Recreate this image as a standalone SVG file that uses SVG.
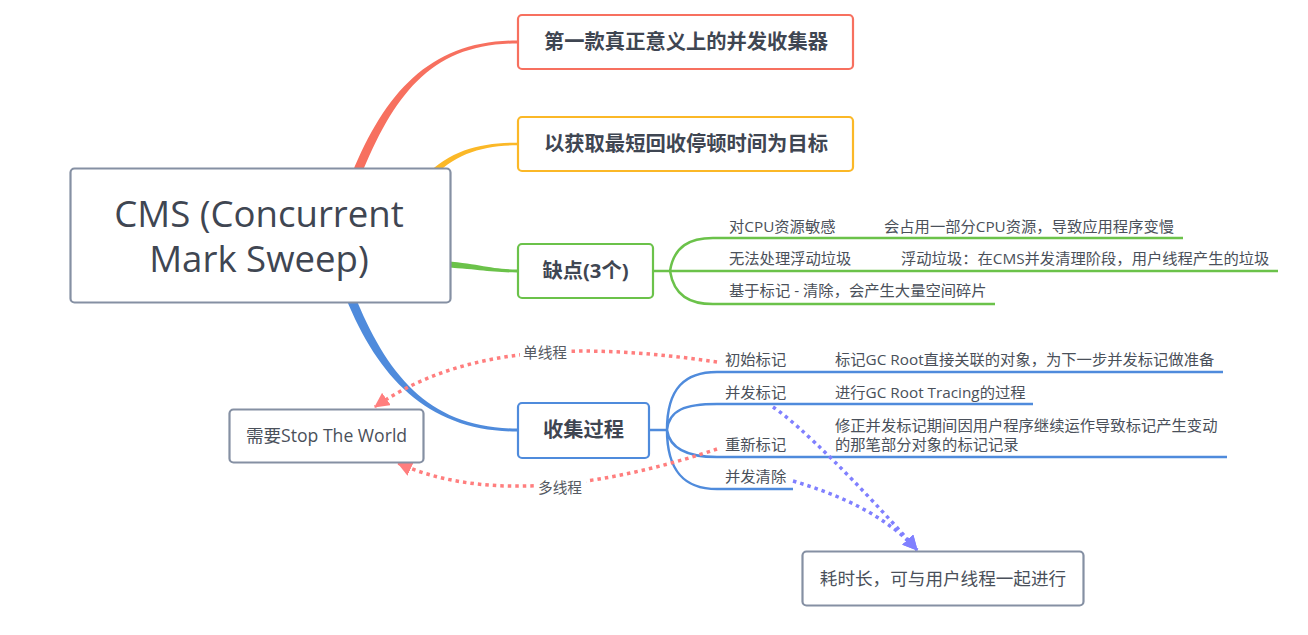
<svg xmlns="http://www.w3.org/2000/svg" width="1308" height="635" viewBox="0 0 1308 635">
<defs>
<style>
.t{font-family:"Open Sans","Noto Sans CJK SC",sans-serif;fill:#3f4652}
.main{font-size:36.6px;text-anchor:middle}
.big{font-size:20.3px;font-weight:700;text-anchor:middle}
.grey{font-size:17.6px;text-anchor:middle;fill:#4a505a}
.d{font-size:15.3px;fill:#4a505a}
.lbl{font-size:14.7px;fill:#555a62;text-anchor:middle}
.node{fill:#fff;stroke-width:2.2}
.gl{fill:none;stroke:#6bc24a;stroke-width:2.5}
.bl{fill:none;stroke:#4f8bdc;stroke-width:2.5}
.rd{fill:none;stroke:#ff7e7e;stroke-width:3.5;stroke-dasharray:3.5 4}
.pd{fill:none;stroke:#8080ff;stroke-width:3.5;stroke-dasharray:3.5 4}
</style>
<marker id="ar" viewBox="0 0 14 14" refX="13" refY="7" markerWidth="15" markerHeight="15" markerUnits="userSpaceOnUse" orient="auto">
<path d="M0,0 L14,7 L0,14 Z" fill="#ff7e7e"/>
</marker>
<marker id="ap" viewBox="0 0 14 14" refX="13" refY="7" markerWidth="15" markerHeight="15" markerUnits="userSpaceOnUse" orient="auto">
<path d="M0,0 L14,7 L0,14 Z" fill="#8080ff"/>
</marker>
</defs>
<rect width="1308" height="635" fill="#fff"/>
<g id="connectors">
<path d="M360.2 177.7 C394.2 93.7 432 43.5 517 43.5 L517 40.5 C432 40.5 385.8 90.3 351.8 174.3 Z" fill="#f7705f"/>
<path d="M430.2 180 C454.2 154 482 145.3 517 145.3 L517 142.7 C482 142.7 449.8 150 425.8 176 Z" fill="#fbb827"/>
<path d="M440 267 C478 269 490 272.5 517 272.5 L517 269.5 C490 269.5 478 263 440 261 Z" fill="#6bc24a"/>
<path d="M354.2 294.3 C387.2 376.3 430 428.5 517 428.5 L517 431.5 C430 431.5 378.8 379.7 345.8 297.7 Z" fill="#4f8bdc"/>
<path class="gl" d="M653 271 H670 M670 271 C674 246 690 238 713 238 H1183 M670 271 H1278 M670 271 C674 296 690 304 713 304 H995"/>
<path class="bl" d="M648 430 H667 M667 430 C667 388 685 372 717 372 H1223 M667 430 C669 410 685 404 717 404 H1033 M667 430 C670 450 690 457 717 457 H1227 M667 430 C667 472 685 489 717 489 H793"/>
<path class="rd" d="M717 362 C600 345 470 340 375 407" marker-end="url(#ar)"/>
<path class="rd" d="M717 449 C640 475 500 510 398 463" marker-end="url(#ar)"/>
<path class="pd" d="M773 407 C800 425 860 485 917 550" marker-end="url(#ap)"/>
<path class="pd" d="M793 481 C840 495 885 515 917 550" marker-end="url(#ap)"/>
<rect x="520" y="343" width="50" height="20" fill="#fff"/>
<rect x="535" y="477" width="51" height="20" fill="#fff"/>
<text class="t lbl" x="545" y="358">单线程</text>
<text class="t lbl" x="560" y="493">多线程</text>
</g>
<g id="root">
<rect class="node" x="70.5" y="168.5" width="380" height="134" rx="4" stroke="#8590a3" stroke-width="3"/>
<text class="t main" x="259" y="227">CMS (Concurrent</text>
<text class="t main" x="259" y="272">Mark Sweep)</text>
</g>
<g id="n1">
<rect class="node" x="518" y="15" width="335" height="54" rx="4" stroke="#f7705f"/>
<text class="t big" x="686" y="49">第一款真正意义上的并发收集器</text>
</g>
<g id="n2">
<rect class="node" x="518" y="117" width="335" height="54" rx="4" stroke="#fbb827"/>
<text class="t big" x="686" y="151">以获取最短回收停顿时间为目标</text>
</g>
<g id="n3">
<rect class="node" x="518" y="244" width="135" height="54" rx="4" stroke="#6bc24a"/>
<text class="t big" x="585.5" y="278">缺点(3个)</text>
</g>
<g id="n3a"><text class="t d" x="729" y="232">对CPU资源敏感</text><text class="t d" x="884" y="232">会占用一部分CPU资源，导致应用程序变慢</text></g>
<g id="n3b"><text class="t d" x="729" y="264">无法处理浮动垃圾</text><text class="t d" x="901" y="264">浮动垃圾：在CMS并发清理阶段，用户线程产生的垃圾</text></g>
<g id="n3c"><text class="t d" x="729" y="296">基于标记 - 清除，会产生大量空间碎片</text></g>
<g id="n4">
<rect class="node" x="518" y="403" width="131" height="55" rx="4" stroke="#4f8bdc"/>
<text class="t big" x="583.5" y="437">收集过程</text>
</g>
<g id="n4a"><text class="t d" x="725" y="365">初始标记</text><text class="t d" x="835" y="365">标记GC Root直接关联的对象，为下一步并发标记做准备</text></g>
<g id="n4b"><text class="t d" x="725" y="398">并发标记</text><text class="t d" x="835" y="398">进行GC Root Tracing的过程</text></g>
<g id="n4c"><text class="t d" x="725" y="450">重新标记</text><text class="t d" x="835" y="431">修正并发标记期间因用户程序继续运作导致标记产生变动</text><text class="t d" x="835" y="450">的那笔部分对象的标记记录</text></g>
<g id="n4d"><text class="t d" x="725" y="482">并发清除</text></g>
<g id="stw">
<rect class="node" x="229.5" y="409.5" width="194" height="53" rx="4" stroke="#8590a3"/>
<text class="t grey" x="326.5" y="442">需要Stop The World</text>
</g>
<g id="conc">
<rect class="node" x="802.5" y="551.5" width="281" height="54" rx="4" stroke="#8590a3"/>
<text class="t grey" x="943" y="585">耗时长，可与用户线程一起进行</text>
</g>
</svg>
